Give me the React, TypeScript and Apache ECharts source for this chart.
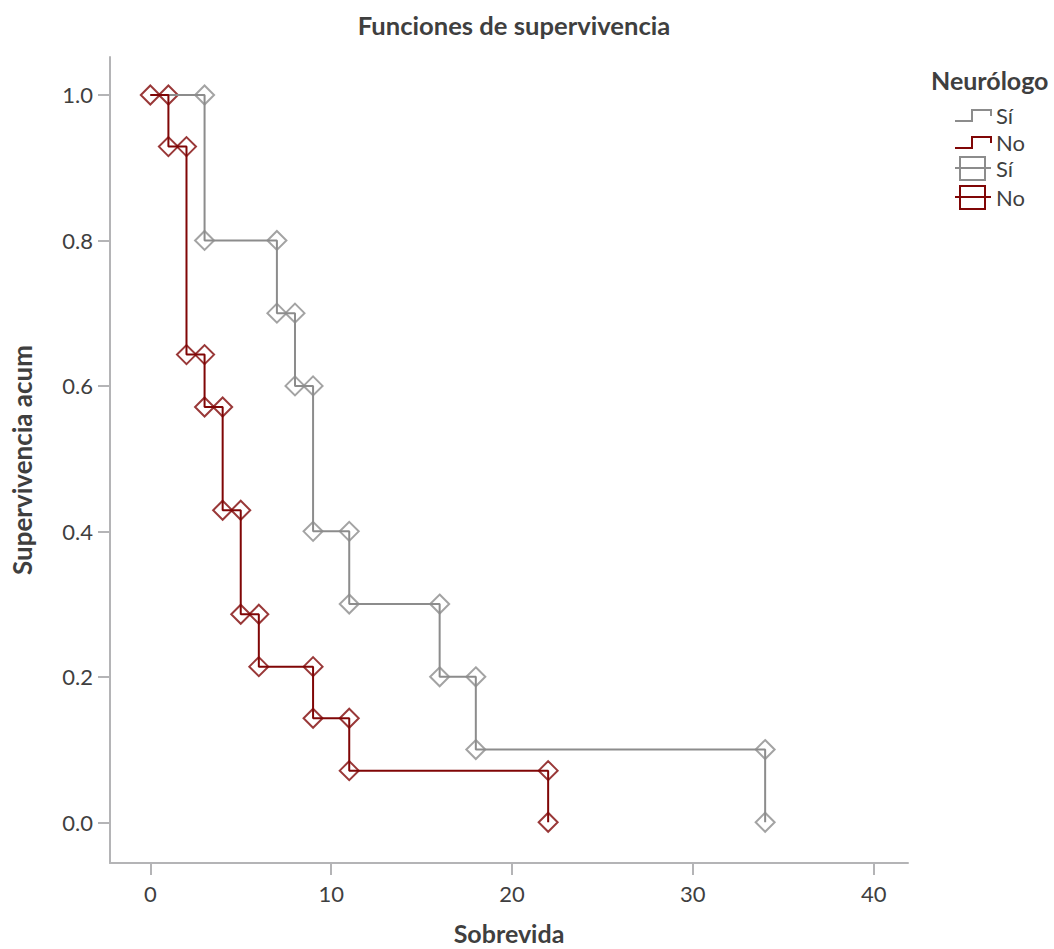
import React, { useEffect, useRef } from "react";
import * as echarts from "echarts";

const groupNames = ["Sí", "No"];
const siTimes = [0, 3, 7, 8, 9, 11, 16, 18, 34];
const siSurv = [1.0, 0.8, 0.7, 0.6, 0.4, 0.3, 0.2, 0.1, 0.0];
const noTimes = [0, 1, 2, 3, 4, 5, 6, 9, 11, 22];
const noSurv = [1.0, 0.929, 0.643, 0.571, 0.429, 0.286, 0.214, 0.143, 0.071, 0.0];
const xTicks = [0, 10, 20, 30, 40];
const yTicks = [0, 0.2, 0.4, 0.6, 0.8, 1.0];

const GREY = "#8c8c8c";
const RED = "#800606";
const TEXT = "#3f3f3f";
const AXIS = "#b4b4b6";
const FONT = "Lato, 'Noto Sans', sans-serif";

function stepPoints(t: number[], s: number[]) {
  return t.map((v, i) => [v, s[i]]);
}
function cornerPoints(t: number[], s: number[], withStart: boolean) {
  const pts: number[][] = [];
  if (withStart) pts.push([t[0], s[0]]);
  for (let i = 1; i < t.length; i++) {
    pts.push([t[i], s[i - 1]]);
    pts.push([t[i], s[i]]);
  }
  return pts;
}

export default function App() {
  const ref = useRef<HTMLDivElement>(null);
  useEffect(() => {
    document.body.style.margin = "0";
    if (!ref.current) return;
    const chart = echarts.init(ref.current, null, { renderer: "svg" });
    const legendX = 955;
    const rows = [115, 142, 168, 197];
    const stepIcon = (y: number, color: string) => ({
      type: "polyline",
      shape: {
        points: [
          [legendX, y + 6],
          [legendX + 17, y + 6],
          [legendX + 17, y - 5],
          [legendX + 36, y - 5],
          [legendX + 36, y + 1],
        ],
      },
      style: { stroke: color, lineWidth: 2, fill: null },
    });
    const boxIcon = (y: number, color: string) => ({
      type: "group",
      children: [
        {
          type: "rect",
          shape: { x: legendX + 5, y: y - 11, width: 25, height: 23 },
          style: { stroke: color, lineWidth: 2, fill: "transparent" },
        },
        {
          type: "line",
          shape: { x1: legendX, y1: y, x2: legendX + 36, y2: y },
          style: { stroke: color, lineWidth: 2 },
        },
      ],
    });
    const legendText = (y: number, txt: string) => ({
      type: "text",
      x: legendX + 41,
      y,
      style: {
        text: txt,
        fill: TEXT,
        font: `22px ${FONT}`,
        verticalAlign: "middle",
      },
    });
    chart.setOption({
      animation: false,
      title: {
        text: "Funciones de supervivencia",
        left: 509,
        textAlign: "center",
        top: 7,
        textStyle: { fontFamily: FONT, fontSize: 25.6, fontWeight: "bold", color: TEXT },
      },
      grid: { left: 110, right: 146, top: 57, bottom: 86, containLabel: false, outerBoundsMode: "none" },
      xAxis: {
        type: "value",
        min: -2.23,
        max: 41.9,
        name: "Sobrevida",
        nameLocation: "middle",
        nameGap: 59,
        nameTextStyle: { fontFamily: FONT, fontSize: 25, lineHeight: 22, fontWeight: "bold", color: TEXT },
        axisLine: { show: true, onZero: false, lineStyle: { color: AXIS, width: 2 } },
        axisTick: { show: true, length: 12, customValues: xTicks, lineStyle: { color: AXIS, width: 2 } },
        axisLabel: {
          customValues: xTicks,
          margin: 19,
          fontFamily: FONT,
          fontSize: 22,
          color: TEXT,
        },
        splitLine: { show: false },
      },
      yAxis: {
        type: "value",
        min: -0.056,
        max: 1.0522,
        name: "Supervivencia acum",
        nameLocation: "middle",
        nameGap: 75,
        nameTextStyle: { fontFamily: FONT, fontSize: 26, fontWeight: "bold", color: TEXT },
        axisLine: { show: true, onZero: false, lineStyle: { color: AXIS, width: 2 } },
        axisTick: { show: true, length: 12, customValues: yTicks, lineStyle: { color: AXIS, width: 2 } },
        axisLabel: {
          customValues: yTicks,
          margin: 17,
          fontFamily: FONT,
          fontSize: 22,
          color: TEXT,
          formatter: (v: number) => v.toFixed(1),
        },
        splitLine: { show: false },
      },
      series: [
        {
          name: groupNames[0],
          type: "line",
          step: "end",
          data: stepPoints(siTimes, siSurv),
          showSymbol: false,
          lineStyle: { color: GREY, width: 2 },
          itemStyle: { color: GREY },
        },
        {
          name: groupNames[1],
          type: "line",
          step: "end",
          data: stepPoints(noTimes, noSurv),
          showSymbol: false,
          lineStyle: { color: RED, width: 2 },
          itemStyle: { color: RED },
        },
        {
          name: groupNames[0] + " ",
          type: "scatter",
          data: cornerPoints(siTimes, siSurv, false),
          symbol: "diamond",
          symbolSize: 19,
          itemStyle: { color: "transparent", borderColor: GREY, borderWidth: 2 },
        },
        {
          name: groupNames[1] + " ",
          type: "scatter",
          data: cornerPoints(noTimes, noSurv, true),
          symbol: "diamond",
          symbolSize: 19,
          itemStyle: { color: "transparent", borderColor: RED, borderWidth: 2 },
        },
      ],
      graphic: [
        {
          type: "text",
          x: 931,
          y: 80,
          style: {
            text: "Neurólogo",
            fill: TEXT,
            font: `bold 25px ${FONT}`,
            verticalAlign: "middle",
          },
        },
        stepIcon(rows[0], GREY),
        legendText(rows[0], groupNames[0]),
        stepIcon(rows[1], RED),
        legendText(rows[1], groupNames[1]),
        boxIcon(rows[2], GREY),
        legendText(rows[2], groupNames[0]),
        boxIcon(rows[3], RED),
        legendText(rows[3], groupNames[1]),
      ],
    });
    return () => chart.dispose();
  }, []);
  return <div ref={ref} style={{ width: 1054, height: 949 }} />;
}
